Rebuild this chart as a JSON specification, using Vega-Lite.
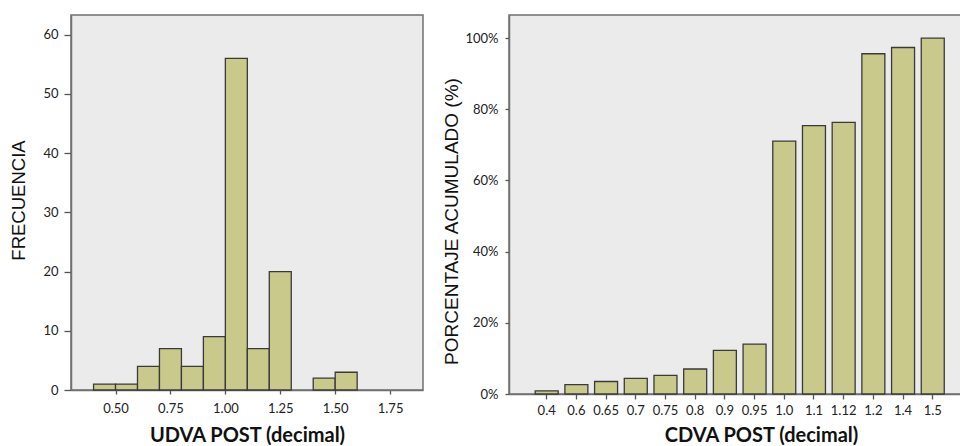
{
  "$schema": "https://vega.github.io/schema/vega-lite/v6.json",
  "background": "white",
  "padding": {"left": 9, "top": 14, "right": 0, "bottom": 0},
  "spacing": 18,
  "config": {
    "view": {"stroke": "#707070", "strokeWidth": 1.5, "fill": "#ebebeb"},
    "axis": {
      "grid": false,
      "labelFont": "Lato",
      "labelFontSize": 13,
      "labelColor": "#222222",
      "domainColor": "#707070",
      "domainWidth": 1.5,
      "tickColor": "#555555",
      "tickWidth": 1.3
    },
    "axisX": {"titleFont": "Lato", "titleFontWeight": "bold", "titleFontSize": 20, "titleColor": "#111111", "labelAngle": 0},
    "axisY": {"titleFont": "Liberation Sans", "titleFontWeight": "normal", "titleFontSize": 18.5, "titleColor": "#111111"}
  },
  "datasets": {
    "udva": [
      {"desde": 0.4, "hasta": 0.5, "frecuencia": 1},
      {"desde": 0.5, "hasta": 0.6, "frecuencia": 1},
      {"desde": 0.6, "hasta": 0.7, "frecuencia": 4},
      {"desde": 0.7, "hasta": 0.8, "frecuencia": 7},
      {"desde": 0.8, "hasta": 0.9, "frecuencia": 4},
      {"desde": 0.9, "hasta": 1.0, "frecuencia": 9},
      {"desde": 1.0, "hasta": 1.1, "frecuencia": 56},
      {"desde": 1.1, "hasta": 1.2, "frecuencia": 7},
      {"desde": 1.2, "hasta": 1.3, "frecuencia": 20},
      {"desde": 1.4, "hasta": 1.5, "frecuencia": 2},
      {"desde": 1.5, "hasta": 1.6, "frecuencia": 3}
    ],
    "cdva": [
      {"cdva": "0.4", "acumulado": 0.88},
      {"cdva": "0.6", "acumulado": 2.63},
      {"cdva": "0.65", "acumulado": 3.51},
      {"cdva": "0.7", "acumulado": 4.39},
      {"cdva": "0.75", "acumulado": 5.26},
      {"cdva": "0.8", "acumulado": 7.02},
      {"cdva": "0.9", "acumulado": 12.28},
      {"cdva": "0.95", "acumulado": 14.04},
      {"cdva": "1.0", "acumulado": 71.05},
      {"cdva": "1.1", "acumulado": 75.44},
      {"cdva": "1.12", "acumulado": 76.32},
      {"cdva": "1.2", "acumulado": 95.61},
      {"cdva": "1.4", "acumulado": 97.37},
      {"cdva": "1.5", "acumulado": 100}
    ]
  },
  "hconcat": [
    {
      "width": 352,
      "height": 375,
      "data": {"name": "udva"},
      "mark": {"type": "bar", "orient": "vertical", "fill": "#c9c98c", "stroke": "#3a3a3a", "strokeWidth": 1.3},
      "encoding": {
        "x": {
          "field": "desde", "type": "quantitative",
          "scale": {"domain": [0.32, 1.877], "nice": false, "zero": false},
          "axis": {"values": [0.5, 0.75, 1.0, 1.25, 1.5, 1.75], "format": ".2f", "tickSize": 4, "labelPadding": 8, "title": "UDVA POST (decimal)", "titlePadding": 10}
        },
        "x2": {"field": "hasta"},
        "y": {
          "field": "frecuencia", "type": "quantitative",
          "scale": {"domain": [0, 63.33], "nice": false},
          "axis": {"values": [0, 10, 20, 30, 40, 50, 60], "tickSize": 7, "labelPadding": 6, "title": "FRECUENCIA", "titlePadding": 14, "titleY": 185}
        }
      }
    },
    {
      "width": 452,
      "height": 379,
      "data": {"name": "cdva"},
      "mark": {"type": "bar", "fill": "#c9c98c", "stroke": "#3a3a3a", "strokeWidth": 1.3},
      "encoding": {
        "x": {
          "field": "cdva", "type": "ordinal", "sort": null,
          "scale": {"paddingInner": 0.226, "paddingOuter": 0.723, "align": 0.61, "round": false},
          "axis": {"orient": "bottom", "tickSize": 5, "labelPadding": 5, "title": "CDVA POST (decimal)", "titlePadding": 8, "titleX": 252}
        },
        "y": {
          "field": "acumulado", "type": "quantitative",
          "scale": {"domain": [0, 106.5], "nice": false},
          "axis": {"values": [0, 20, 40, 60, 80, 100], "labelExpr": "datum.value + '%'", "tickSize": 4, "labelPadding": 7, "title": "PORCENTAJE ACUMULADO (%)", "titlePadding": 3, "titleFontSize": 19, "titleY": 206}
        }
      }
    }
  ]
}
